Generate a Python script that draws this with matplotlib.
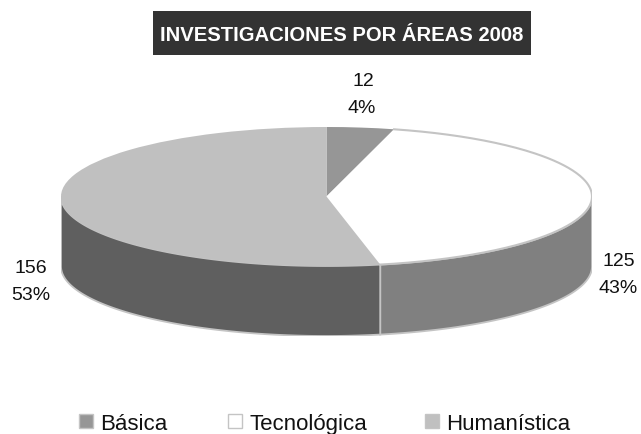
import numpy as np
import matplotlib
matplotlib.use("Agg")
import matplotlib.pyplot as plt
from matplotlib.patches import Rectangle

plt.rcParams['font.family'] = ['Liberation Sans', 'DejaVu Sans']

# - - Data ---------------------------------------------------------------------
areas = ["Básica", "Tecnológica", "Humanística"]
values = [12, 125, 156]
percents = ["4%", "43%", "53%"]
top_colours = ["#969696", "#ffffff", "#c0c0c0"]
side_colours = ["#6e6e6e", "#808080", "#5f5f5f"]
title = "INVESTIGACIONES POR ÁREAS 2008"

W, H = 641, 434
edge = "#c4c4c4"

fig = plt.figure(figsize=(W / 100, H / 100), dpi=100, facecolor="white")

# pixel helpers, everything below was measured on the 641x434 picture
def px(x, y):
    return x / W, 1 - y / H

# - - Pie ----------------------------------------------------------------------
# unit-circle axes squashed into the ellipse box, with room under it for the wall
left, right, top, bottom = 61, 592, 127, 266
depth = 70 / ((bottom - top) / 2)
ax = fig.add_axes([left / W, 1 - (bottom + 70) / H, (right - left) / W, (bottom + 70 - top) / H])

total = sum(values)
start = 0.0
for val, col in zip(values, side_colours):
    stop = start + 360 * val / total
    # only the front half (90-270 clockwise from the top) of the wall shows
    a0, a1 = max(start, 90), min(stop, 270)
    if a1 > a0:
        t = np.radians(np.linspace(a0, a1, 120))
        xs = np.sin(t)
        ys = np.cos(t)
        ax.fill(np.r_[xs, xs[::-1]], np.r_[ys, ys[::-1] - depth],
                facecolor=col, edgecolor=edge, linewidth=1.3, zorder=1)
    start = stop

ax.pie(values, colors=top_colours, startangle=90, counterclock=False, radius=1,
       wedgeprops=dict(linewidth=0), center=(0, 0))
# outline along the white slice only
t = np.radians(np.linspace(360 * values[0] / total, 360 * (values[0] + values[1]) / total, 200))
ax.plot(np.sin(t), np.cos(t), color=edge, linewidth=1.5, zorder=3)

ax.set_aspect("auto")
ax.set_xlim(-1, 1)
ax.set_ylim(-1 - depth, 1)
ax.axis("off")

# - - Title --------------------------------------------------------------------
fig.add_artist(Rectangle(px(153, 55), 378 / W, 44 / H, transform=fig.transFigure,
                         facecolor="#333333", edgecolor="none"))
fig.text(*px(342, 41), title, color="white", fontsize=14.6, fontweight="bold",
         ha="center", va="baseline")

# - - Data labels --------------------------------------------------------------
label_pos = [(363, 86, 362, 113), (619, 266, 618, 293), (31, 273, 31, 300)]
for val, pct, (x1, y1, x2, y2) in zip(values, percents, label_pos):
    fig.text(*px(x1, y1), str(val), fontsize=14, color="#111111", ha="center", va="baseline")
    fig.text(*px(x2, y2), pct, fontsize=14, color="#111111", ha="center", va="baseline")

# - - Legend -------------------------------------------------------------------
marker_x = [79, 228, 425]
text_x = [100, 250, 446]
for name, col, mx, tx in zip(areas, top_colours, marker_x, text_x):
    fig.add_artist(Rectangle(px(mx, 428), 14 / W, 14 / H, transform=fig.transFigure,
                             facecolor=col, edgecolor=edge, linewidth=1.0))
    fig.text(*px(tx, 430), name, fontsize=16, color="#111111", ha="left", va="baseline")

fig.savefig("out.png", dpi=100)
